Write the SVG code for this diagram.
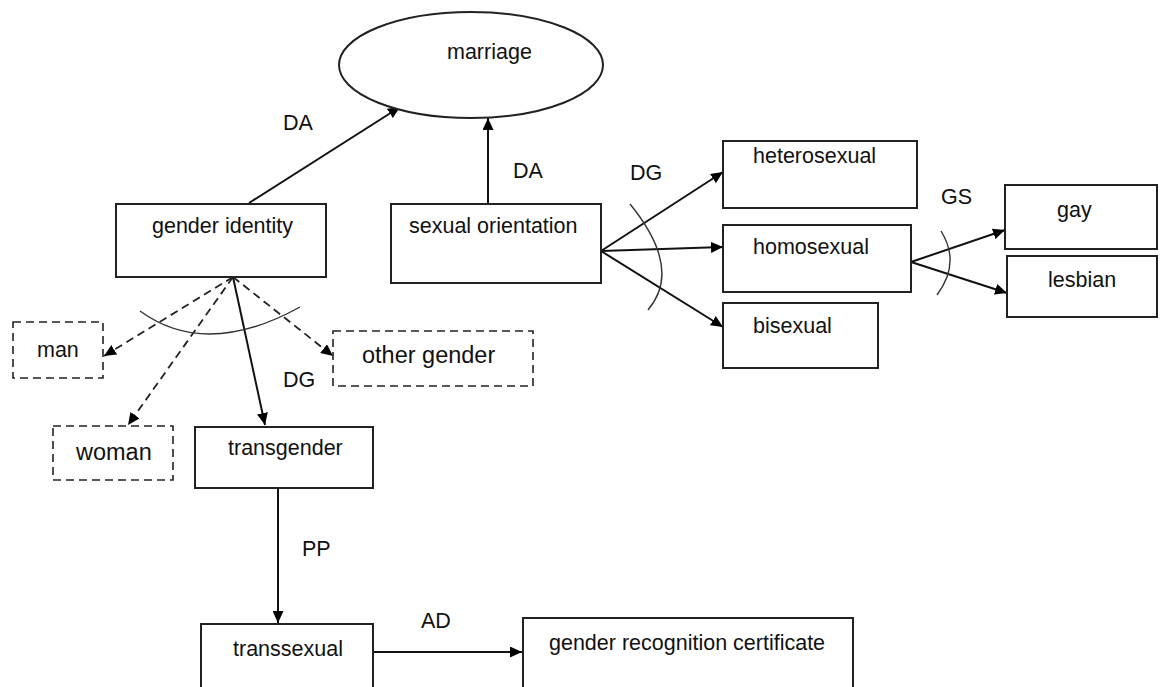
<svg xmlns="http://www.w3.org/2000/svg" width="1160" height="687" viewBox="0 0 1160 687">
  <style>
    text { font-family: "Liberation Sans", Arial, sans-serif; font-size: 21.5px; fill: #111; }
    .big { font-size: 23.5px; }
    .box { fill: #fff; stroke: #222; stroke-width: 2; }
    .dbox { fill: #fff; stroke: #222; stroke-width: 1.6; stroke-dasharray: 8 5; }
    .link { fill: none; stroke: #111; stroke-width: 2; marker-end: url(#head); }
    .dlink { fill: none; stroke: #222; stroke-width: 1.8; stroke-dasharray: 8 5; marker-end: url(#head); }
    .arc { fill: none; stroke: #333; stroke-width: 1.4; }
  </style>
  <defs>
    <marker id="head" markerUnits="userSpaceOnUse" markerWidth="13" markerHeight="11" refX="12" refY="5.5" orient="auto">
      <path d="M0,0 L12,5.5 L0,11 Z" fill="#000"/>
    </marker>
  </defs>
  <rect width="1160" height="687" fill="#fff"/>

  <!-- connectors -->
  <g id="connectors">
    <path class="link" d="M249,203 L400,107"/>
    <path class="link" d="M488,203 L488,118"/>
    <path class="link" d="M601,251 L723,172"/>
    <path class="link" d="M601,251 L723,247"/>
    <path class="link" d="M601,251 L723,327"/>
    <path class="link" d="M911,262 L1005,230"/>
    <path class="link" d="M911,262 L1007,293"/>
    <path class="dlink" d="M233,277 L104,356"/>
    <path class="dlink" d="M233,277 L128,425"/>
    <path class="link" d="M233,277 L265,425"/>
    <path class="dlink" d="M233,277 L333,356"/>
    <path class="link" d="M278,488 L278,623"/>
    <path class="link" d="M373,652 L522,652"/>
    <!-- grouping arcs -->
    <path class="arc" d="M140,311 Q206,359 300,307"/>
    <path class="arc" d="M630,204 Q683,269 648,310"/>
    <path class="arc" d="M941,231 Q961,263 937,295"/>
    <!-- relation labels -->
    <text x="283" y="130">DA</text>
    <text x="513" y="178">DA</text>
    <text x="630" y="180">DG</text>
    <text x="941" y="204">GS</text>
    <text x="283" y="387">DG</text>
    <text x="302" y="556">PP</text>
    <text x="421" y="628">AD</text>
  </g>

  <g id="marriage">
    <ellipse cx="471" cy="65" rx="132" ry="53" fill="#fff" stroke="#222" stroke-width="2"/>
    <text x="447" y="59">marriage</text>
  </g>
  <g id="gender-identity">
    <rect class="box" x="116" y="204" width="210" height="73"/>
    <text x="152" y="233">gender identity</text>
  </g>
  <g id="sexual-orientation">
    <rect class="box" x="391" y="204" width="210" height="79"/>
    <text x="409" y="233">sexual orientation</text>
  </g>
  <g id="heterosexual">
    <rect class="box" x="723" y="141" width="194" height="67"/>
    <text x="753" y="163">heterosexual</text>
  </g>
  <g id="homosexual">
    <rect class="box" x="723" y="225" width="188" height="67"/>
    <text x="753" y="254">homosexual</text>
  </g>
  <g id="bisexual">
    <rect class="box" x="723" y="303" width="155" height="65"/>
    <text x="753" y="333">bisexual</text>
  </g>
  <g id="gay">
    <rect class="box" x="1005" y="185" width="152" height="64"/>
    <text x="1057" y="217">gay</text>
  </g>
  <g id="lesbian">
    <rect class="box" x="1007" y="256" width="150" height="61"/>
    <text x="1048" y="287">lesbian</text>
  </g>
  <g id="man">
    <rect class="dbox" x="13" y="322" width="90" height="56"/>
    <text x="37" y="357">man</text>
  </g>
  <g id="woman">
    <rect class="dbox" x="53" y="426" width="120" height="54"/>
    <text class="big" x="76" y="460">woman</text>
  </g>
  <g id="other-gender">
    <rect class="dbox" x="333" y="331" width="200" height="55"/>
    <text class="big" x="362" y="363">other gender</text>
  </g>
  <g id="transgender">
    <rect class="box" x="195" y="427" width="178" height="61"/>
    <text x="228" y="455">transgender</text>
  </g>
  <g id="transsexual">
    <rect class="box" x="201" y="624" width="172" height="70"/>
    <text x="233" y="656">transsexual</text>
  </g>
  <g id="gender-recognition-certificate">
    <rect class="box" x="523" y="618" width="330" height="76"/>
    <text x="549" y="650">gender recognition  certificate</text>
  </g>
</svg>
